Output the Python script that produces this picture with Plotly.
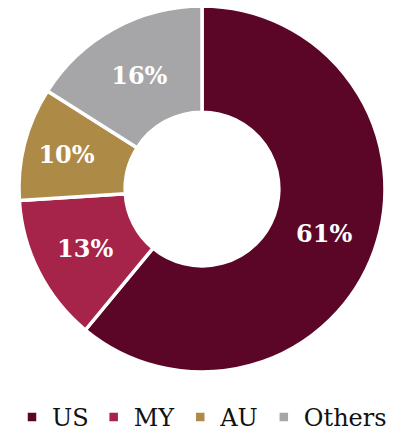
import plotly.graph_objects as go

labels = ["US", "MY", "AU", "Others"]
values = [61, 13, 10, 16]
colors = ["#5B0627", "#A6234A", "#AE8A47", "#A6A6A9"]

FONT = "DejaVu Serif"

fig = go.Figure(go.Pie(
    labels=labels,
    values=values,
    hole=0.42,
    sort=False,
    direction="clockwise",
    rotation=0,
    marker=dict(colors=colors, line=dict(color="white", width=3.5)),
    texttemplate="<b>%{percent:.0%}</b>",
    textposition="inside",
    insidetextorientation="horizontal",
    textfont=dict(family=FONT, size=24, color="white"),
    hoverinfo="skip",
))

fig.update_layout(
    width=410, height=438,
    margin=dict(l=0, r=6, t=6, b=66),
    paper_bgcolor="white",
    plot_bgcolor="white",
    showlegend=True,
    font=dict(family=FONT),
    legend=dict(
        orientation="h",
        x=0.5, xanchor="center",
        yref="container", y=0.047, yanchor="middle",
        font=dict(family=FONT, size=24, color="#111111"),
        traceorder="normal",
    ),
)

fig.write_html("out.html")
